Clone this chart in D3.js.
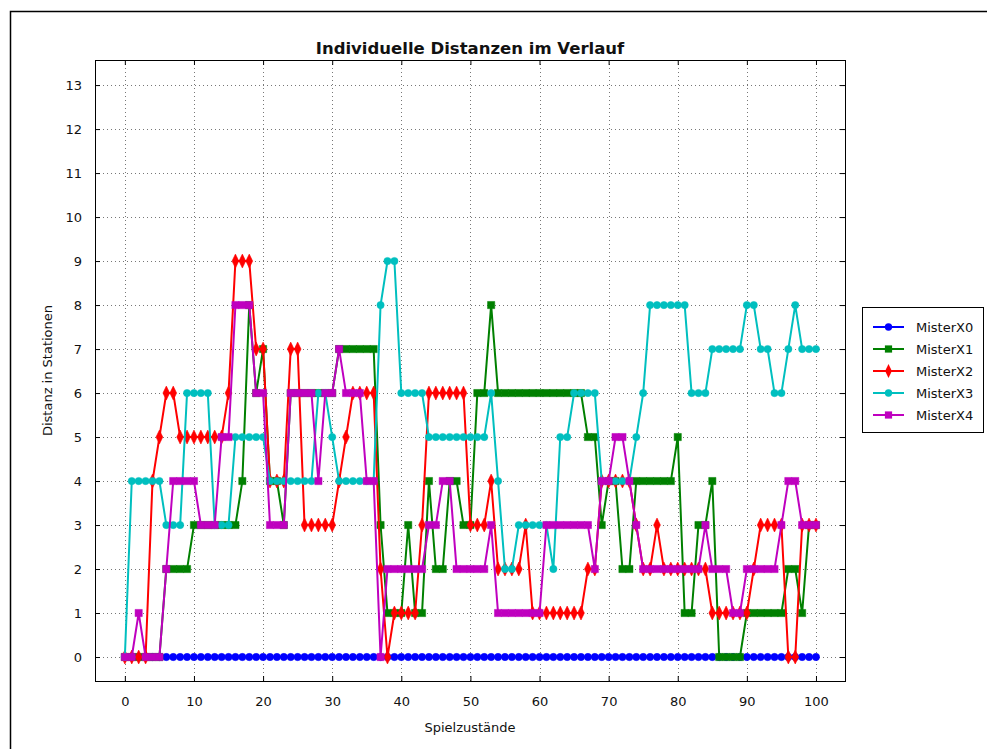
<!DOCTYPE html>
<html>
<head>
<meta charset="utf-8">
<script src="https://cdn.jsdelivr.net/npm/d3@7"></script>
<style>
  body { margin: 0; background: #fff; }
  text { font-family: "DejaVu Sans", sans-serif; fill: #111; }
</style>
</head>
<body>
<div id="svg"></div>
<script>
// game states 0..100
var states = [
  0,1,2,3,4,5,6,7,8,9,10,11,12,13,14,15,16,17,18,19,
  20,21,22,23,24,25,26,27,28,29,30,31,32,33,34,35,36,37,38,39,
  40,41,42,43,44,45,46,47,48,49,50,51,52,53,54,55,56,57,58,59,
  60,61,62,63,64,65,66,67,68,69,70,71,72,73,74,75,76,77,78,79,
  80,81,82,83,84,85,86,87,88,89,90,91,92,93,94,95,96,97,98,99,100];

var misterX0 = [
  0,0,0,0,0,0,0,0,0,0, 0,0,0,0,0,0,0,0,0,0,
  0,0,0,0,0,0,0,0,0,0, 0,0,0,0,0,0,0,0,0,0,
  0,0,0,0,0,0,0,0,0,0, 0,0,0,0,0,0,0,0,0,0,
  0,0,0,0,0,0,0,0,0,0, 0,0,0,0,0,0,0,0,0,0,
  0,0,0,0,0,0,0,0,0,0, 0,0,0,0,0,0,0,0,0,0, 0];

var misterX1 = [
  0,0,0,0,0,0,2,2,2,2, 3,3,3,3,3,3,3,4,8,6,
  7,4,4,3,6,6,6,6,6,6, 6,7,7,7,7,7,7,3,1,1,
  1,3,1,1,4,2,2,4,4,3, 3,6,6,8,6,6,6,6,6,6,
  6,6,6,6,6,6,6,5,5,3, 4,4,2,2,4,4,4,4,4,4,
  5,1,1,3,3,4,0,0,0,0, 1,1,1,1,1,1,2,2,1,3, 3];

var misterX2 = [
  0,0,0,0,4,5,6,6,5,5, 5,5,5,5,5,6,9,9,9,7,
  7,4,4,4,7,7,3,3,3,3, 3,4,5,6,6,6,6,2,0,1,
  1,1,1,3,6,6,6,6,6,6, 3,3,3,4,2,2,2,2,3,1,
  1,1,1,1,1,1,1,2,2,4, 4,4,4,4,3,2,2,3,2,2,
  2,2,2,2,2,1,1,1,1,1, 1,2,3,3,3,3,0,0,3,3, 3];

var misterX3 = [
  0,4,4,4,4,4,3,3,3,6, 6,6,6,3,3,3,5,5,5,5,
  5,4,4,4,4,4,4,4,6,6, 5,4,4,4,4,4,4,8,9,9,
  6,6,6,6,5,5,5,5,5,5, 5,5,5,6,4,2,2,3,3,3,
  3,3,2,5,5,6,6,6,6,4, 4,4,4,4,5,6,8,8,8,8,
  8,8,6,6,6,7,7,7,7,7, 8,8,7,7,6,6,7,8,7,7, 7];

var misterX4 = [
  0,0,1,0,0,0,2,4,4,4, 4,3,3,3,5,5,8,8,8,6,
  6,3,3,3,6,6,6,6,4,6, 6,7,6,6,6,4,4,0,2,2,
  2,2,2,2,3,3,4,4,2,2, 2,2,2,3,1,1,1,1,1,1,
  1,3,3,3,3,3,3,3,2,4, 4,5,5,4,3,2,2,2,2,2,
  2,2,2,2,3,2,2,2,1,1, 2,2,2,2,2,3,4,4,3,3, 3];

var seriesNames = ["MisterX0", "MisterX1", "MisterX2", "MisterX3", "MisterX4"];
var seriesColors = ["#0000ff", "#008000", "#ff0000", "#00bfbf", "#bf00bf"];
var seriesSymbols = ["circle", "square", "diamond", "circle", "square"];
var xTicks = [0,10,20,30,40,50,60,70,80,90,100];
var yTicks = [0,1,2,3,4,5,6,7,8,9,10,11,12,13];

var allSeries = [misterX0, misterX1, misterX2, misterX3, misterX4];

var width = 987, height = 749;
var plot = {left: 95, top: 60, right: 845, bottom: 681};

var svg = d3.select("#svg").append("svg")
    .attr("width", width)
    .attr("height", height);

// figure frame
svg.append("rect")
    .attr("x", 10.5).attr("y", 11.5)
    .attr("width", 1000).attr("height", 760)
    .attr("fill", "#fff").attr("stroke", "#000").attr("stroke-width", 1.5);

var x = d3.scaleLinear().domain([-4.32, 104.2]).range([plot.left, plot.right]);
var y = d3.scaleLinear().domain([-0.545, 13.57]).range([plot.bottom, plot.top]);

svg.append("defs").append("clipPath").attr("id", "clip")
    .append("rect")
    .attr("x", plot.left).attr("y", plot.top)
    .attr("width", plot.right - plot.left).attr("height", plot.bottom - plot.top);

// grid
var grid = svg.append("g").attr("stroke", "#777").attr("stroke-width", 1)
    .attr("stroke-dasharray", "1,3").attr("shape-rendering", "crispEdges");
grid.selectAll(".gx").data(xTicks).enter().append("line")
    .attr("x1", d => Math.round(x(d)) + 0.5).attr("x2", d => Math.round(x(d)) + 0.5)
    .attr("y1", plot.top).attr("y2", plot.bottom);
grid.selectAll(".gy").data(yTicks).enter().append("line")
    .attr("y1", d => Math.round(y(d)) + 0.5).attr("y2", d => Math.round(y(d)) + 0.5)
    .attr("x1", plot.left).attr("x2", plot.right);

// axes with inward ticks on all four sides
var axB = svg.append("g").attr("transform", "translate(0," + plot.bottom + ")")
    .call(d3.axisBottom(x).tickValues(xTicks).tickSizeInner(-5).tickSizeOuter(0).tickPadding(16));
var axT = svg.append("g").attr("transform", "translate(0," + plot.top + ")")
    .call(d3.axisTop(x).tickValues(xTicks).tickSizeInner(-5).tickSizeOuter(0).tickFormat(""));
var axL = svg.append("g").attr("transform", "translate(" + plot.left + ",0)")
    .call(d3.axisLeft(y).tickValues(yTicks).tickSizeInner(-5).tickSizeOuter(0).tickPadding(13));
var axR = svg.append("g").attr("transform", "translate(" + plot.right + ",0)")
    .call(d3.axisRight(y).tickValues(yTicks).tickSizeInner(-5).tickSizeOuter(0).tickFormat(""));
[axB, axT, axL, axR].forEach(function(a) {
    a.select(".domain").remove();
    a.selectAll("text").style("font-family", "DejaVu Sans, sans-serif").style("font-size", "13px").attr("fill", "#111");
    a.selectAll("line").attr("stroke", "#000");
});

// series
var line = d3.line().x((d, i) => x(states[i])).y(d => y(d));
var body = svg.append("g").attr("clip-path", "url(#clip)");

function symbolFor(name, size) {
    var t = name === "square" ? d3.symbolSquare : name === "diamond" ? d3.symbolDiamond : d3.symbolCircle;
    return d3.symbol().type(t).size(size);
}
var symSize = {circle: 42, square: 52, diamond: 36};
var diamondScale = " scale(1.05,1.25)";

allSeries.forEach(function(vals, k) {
    var g = body.append("g");
    g.append("path").datum(vals)
        .attr("d", line)
        .attr("fill", "none")
        .attr("stroke", seriesColors[k])
        .attr("stroke-width", 2);
    g.selectAll("path.m").data(vals).enter().append("path")
        .attr("class", "m")
        .attr("transform", (d, i) => "translate(" + x(states[i]) + "," + y(d) + ")" +
            (seriesSymbols[k] === "diamond" ? diamondScale : ""))
        .attr("d", symbolFor(seriesSymbols[k], symSize[seriesSymbols[k]]))
        .attr("fill", seriesColors[k])
        .attr("stroke", seriesColors[k])
        .attr("stroke-width", 0.5);
});

// plot frame
svg.append("rect")
    .attr("x", plot.left + 0.5).attr("y", plot.top + 0.5)
    .attr("width", plot.right - plot.left).attr("height", plot.bottom - plot.top)
    .attr("fill", "none").attr("stroke", "#000").attr("stroke-width", 1);

// titles
svg.append("text")
    .attr("x", (plot.left + plot.right) / 2).attr("y", 54)
    .attr("text-anchor", "middle")
    .style("font-size", "16.5px").style("font-weight", "bold")
    .text("Individuelle Distanzen im Verlauf");
svg.append("text")
    .attr("x", (plot.left + plot.right) / 2).attr("y", 732)
    .attr("text-anchor", "middle")
    .style("font-size", "13px")
    .text("Spielzustände");
svg.append("text")
    .attr("transform", "translate(52," + ((plot.top + plot.bottom) / 2) + ") rotate(-90)")
    .attr("text-anchor", "middle")
    .style("font-size", "13px")
    .text("Distanz in Stationen");

// legend
var leg = svg.append("g");
leg.append("rect")
    .attr("x", 862.5).attr("y", 307.5).attr("width", 121).attr("height", 125)
    .attr("fill", "#fff").attr("stroke", "#000").attr("stroke-width", 1);
seriesNames.forEach(function(name, k) {
    var ly = 327 + k * 22;
    leg.append("line").attr("x1", 873).attr("x2", 904).attr("y1", ly).attr("y2", ly)
        .attr("stroke", seriesColors[k]).attr("stroke-width", 2);
    leg.append("path")
        .attr("transform", "translate(888.5," + ly + ")" + (seriesSymbols[k] === "diamond" ? diamondScale : ""))
        .attr("d", symbolFor(seriesSymbols[k], symSize[seriesSymbols[k]]))
        .attr("fill", seriesColors[k]);
    leg.append("text").attr("x", 916).attr("y", ly).attr("dy", "0.35em")
        .style("font-size", "13px")
        .text(name);
});
</script>
</body>
</html>
